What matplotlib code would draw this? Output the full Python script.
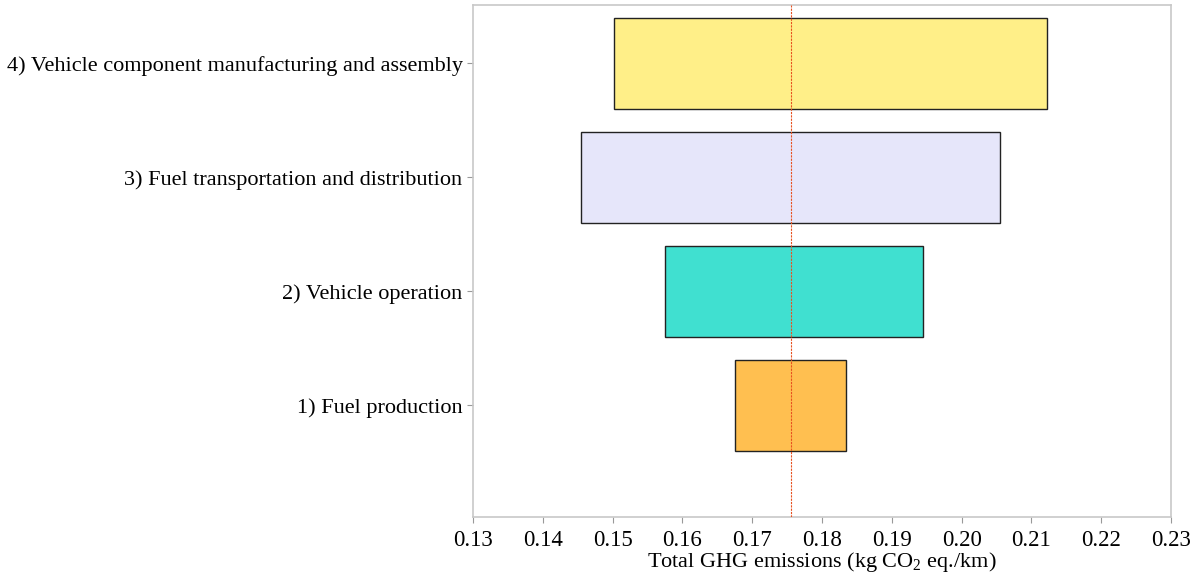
# tornado-style range chart of total GHG emissions by life-cycle stage
import matplotlib.pyplot as plt

stages = [
    "1) Fuel production",
    "2) Vehicle operation",
    "3) Fuel transportation and distribution",
    "4) Vehicle component manufacturing and assembly",
]
low = [0.1675, 0.1575, 0.1455, 0.1502]
high = [0.1834, 0.1945, 0.2055, 0.2122]
baseline = 0.1756
colors = ["#ffbf50", "#40e0d0", "#e6e6fa", "#ffef88"]
xticks = [0.13, 0.14, 0.15, 0.16, 0.17, 0.18, 0.19, 0.20, 0.21, 0.22, 0.23]

plt.rcParams["font.family"] = ["Liberation Serif", "DejaVu Serif"]
plt.rcParams["mathtext.fontset"] = "custom"
plt.rcParams["mathtext.rm"] = "Liberation Serif"

fig = plt.figure(figsize=(11.93, 5.75), dpi=100)
ax = fig.add_axes([473 / 1193, 1 - 517 / 575, 698 / 1193, 512 / 575])

ypos = list(range(1, len(stages) + 1))
widths = [h - l for l, h in zip(low, high)]
ax.barh(ypos, widths, left=low, height=0.8, color=colors,
        edgecolor="#222222", linewidth=1.0, zorder=2)
ax.axvline(baseline, color="#e8501e", linestyle=(0, (2, 1)), linewidth=0.8, zorder=3)

ax.set_xlim(0.13, 0.23)
ax.set_ylim(0.02, 4.51)
ax.set_xticks(xticks)
ax.set_xticklabels([f"{t:.2f}" for t in xticks])
ax.set_yticks(ypos)
ax.set_yticklabels(stages)
ax.tick_params(colors="#999999", labelcolor="black", length=4, width=0.8)
ax.tick_params(axis="y", labelsize=16)
ax.tick_params(axis="x", labelsize=16.5, pad=5)
ax.set_xlabel("Total GHG emissions (kg CO$_2$ eq./km)", fontsize=16, labelpad=0)

for s in ax.spines.values():
    s.set_color("#c8c8c8")
    s.set_linewidth(1.2)

fig.savefig("out.png", dpi=100)
